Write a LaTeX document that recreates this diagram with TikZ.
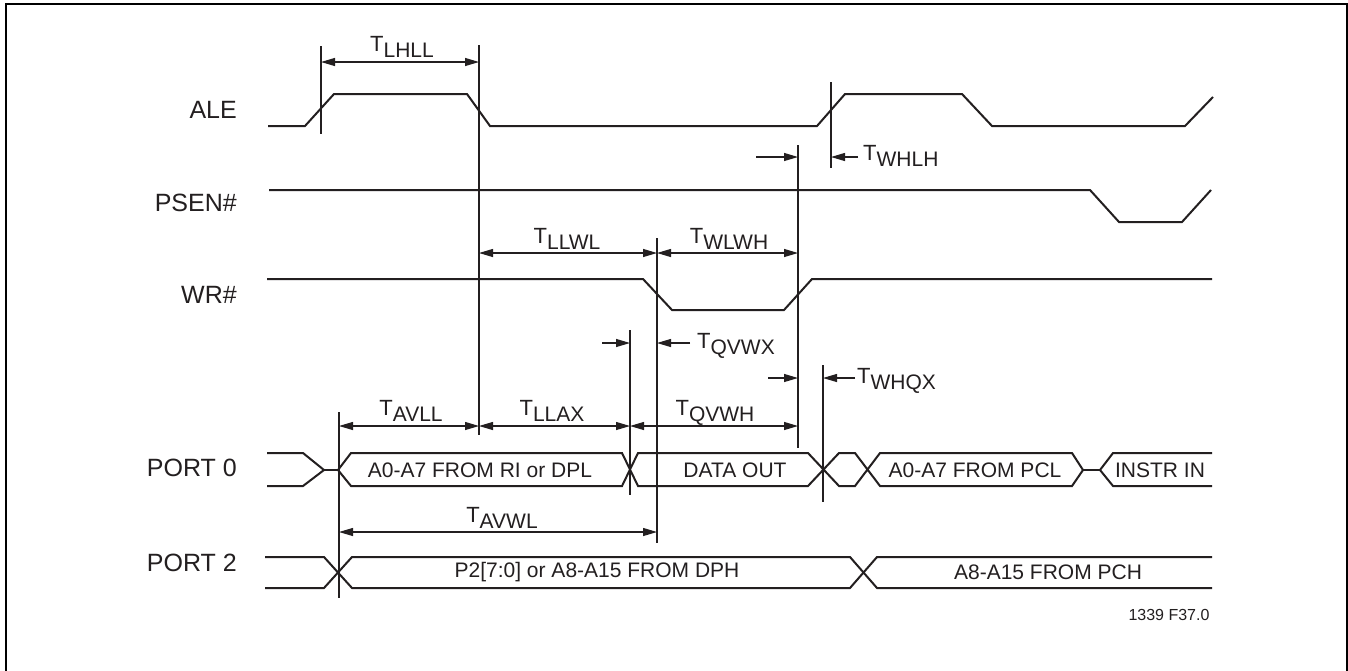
\documentclass[tikz,border=0pt]{standalone}
\usepackage{fontspec}
\setmainfont{Liberation Sans}
\usetikzlibrary{arrows.meta}
\definecolor{ink}{HTML}{231F20}
\newcommand\tsub[2]{{\fontsize{22}{22}\selectfont #1}\raisebox{-6pt}{\fontsize{21}{21}\selectfont #2}}
\begin{document}
\begin{tikzpicture}[x=1pt,y=-1pt,
  sig/.style={draw=ink,line width=2pt,line join=miter},
  vref/.style={draw=ink,line width=1.1pt},
  dimboth/.style={draw=ink,line width=1.1pt,{Triangle[length=14pt,width=8pt]}-{Triangle[length=14pt,width=8pt]}},
  dimone/.style={draw=ink,line width=1.1pt,-{Triangle[length=14pt,width=8pt]}},
  siglabel/.style={anchor=east,inner sep=0,text=ink,font=\fontsize{25}{25}\selectfont},
  bustext/.style={inner sep=0,text=ink,font=\fontsize{21}{21}\selectfont},
  tlab/.style={inner sep=0,text=ink,anchor=base},
  tlabw/.style={inner sep=0,text=ink,anchor=base west},
]
\useasboundingbox (0,0) rectangle (1348,670);
\fill[white] (0,0) rectangle (1348,670);
% frame
\draw[black,line width=2.2pt] (6,690) -- (6,4) -- (1347,4) -- (1347,690);

% signal labels
\node[siglabel] (lale) at (237,110) {ALE};
\node[siglabel] (lpsen) at (237,203) {PSEN\#};
\node[siglabel] (lwr) at (237,295) {WR\#};
\node[siglabel] (lp0) at (237,468) {PORT 0};
\node[siglabel] (lp2) at (237,563) {PORT 2};

% ALE
\draw[sig] (268,126) -- (305,126) -- (334,94) -- (467,94) -- (490,126) -- (817,126) -- (845,94) -- (962,94) -- (992,126) -- (1185,126) -- (1213,97);
% PSEN#
\draw[sig] (269,190) -- (1090,190) -- (1119,222) -- (1182,222) -- (1211,190);
% WR#
\draw[sig] (267,279) -- (643,279) -- (672,310) -- (784,310) -- (812,279) -- (1212,279);

% PORT 0
\draw[sig] (267,453) -- (303,453) -- (324,470) -- (303,486) -- (267,486);
\draw[sig] (324,470) -- (338,470);
\draw[sig] (338,470) -- (351,453) -- (622,453) -- (638,486) -- (808,486) -- (839,453) -- (855,453) -- (880,486) -- (1072,486) -- (1083,470) -- (1072,453) -- (880,453) -- (855,486) -- (839,486) -- (808,453) -- (638,453) -- (622,486) -- (351,486) -- cycle;
\draw[sig] (1083,470) -- (1100,470);
\draw[sig] (1212,453) -- (1113,453) -- (1100,470) -- (1113,486) -- (1212,486);
\node[bustext] (b1) at (480,470) {A0-A7 FROM RI or DPL};
\node[bustext] (b2) at (735,470) {DATA OUT};
\node[bustext] (b3) at (975,470) {A0-A7 FROM PCL};
\node[bustext] (b4) at (1160,470) {INSTR IN};

% PORT 2
\draw[sig] (265,557) -- (324,557) -- (352,588) -- (850,588) -- (877,557) -- (1212,557);
\draw[sig] (265,588) -- (324,588) -- (352,557) -- (850,557) -- (877,588) -- (1212,588);
\node[bustext] (b5) at (597,572) {P2[7:0] or A8-A15 FROM DPH};
\node[bustext] (b6) at (1048,572) {A8-A15 FROM PCH};

% reference verticals
\draw[vref] (321,46) -- (321,134);
\draw[vref] (479,45) -- (479,435);
\draw[vref] (798,145) -- (798,448);
\draw[vref] (831,82) -- (831,168);
\draw[vref] (657,238) -- (657,543);
\draw[vref] (630,330) -- (630,495);
\draw[vref] (823,365) -- (823,502);
\draw[vref] (339,412) -- (339,598);

% dimension points
\coordinate (lhA) at (321,62);  \coordinate (lhB) at (479,62);
\coordinate (llA) at (479,253); \coordinate (llB) at (657,253); \coordinate (wlB) at (798,253);
\coordinate (avA) at (339,426); \coordinate (avB) at (479,426); \coordinate (laB) at (630,426); \coordinate (qvB) at (798,426);
\coordinate (awA) at (339,532); \coordinate (awB) at (657,532);

\draw[dimboth] (lhA) -- (lhB);
\draw[dimboth] (llA) -- (llB);
\draw[dimboth] (llB) -- (wlB);
\draw[dimboth] (avA) -- (avB);
\draw[dimboth] (avB) -- (laB);
\draw[dimboth] (laB) -- (qvB);
\draw[dimboth] (awA) -- (awB);

\node[tlab] (tlhll) at (402,51) {\tsub{T}{LHLL}};
\node[tlab] (tllwl) at (567,243) {\tsub{T}{LLWL}};
\node[tlab] (twlwh) at (729,243) {\tsub{T}{WLWH}};
\node[tlab] (tavll) at (411,415) {\tsub{T}{AVLL}};
\node[tlab] (tllax) at (552,415) {\tsub{T}{LLAX}};
\node[tlab] (tqvwh) at (715,415) {\tsub{T}{QVWH}};
\node[tlab] (tavwl) at (502,522) {\tsub{T}{AVWL}};

% one-sided arrows
\coordinate (whA) at (756,157); \coordinate (whB) at (798,157);
\coordinate (whC) at (858,157); \coordinate (whD) at (831,157);
\draw[dimone] (whA) -- (whB);
\draw[dimone] (whC) -- (whD);
\node[tlabw] (twhlh) at (863,160) {\tsub{T}{WHLH}};

\coordinate (qxA) at (602,343); \coordinate (qxB) at (630,343);
\coordinate (qxC) at (690,343); \coordinate (qxD) at (657,343);
\draw[dimone] (qxA) -- (qxB);
\draw[dimone] (qxC) -- (qxD);
\node[tlabw] (tqvwx) at (697,348) {\tsub{T}{QVWX}};

\coordinate (hqA) at (768,378); \coordinate (hqB) at (798,378);
\coordinate (hqC) at (855,378); \coordinate (hqD) at (823,378);
\draw[dimone] (hqA) -- (hqB);
\draw[dimone] (hqC) -- (hqD);
\node[tlabw] (twhqx) at (857,383) {\tsub{T}{WHQX}};

\node[inner sep=0,text=ink,font=\fontsize{16}{16}\selectfont] (fig) at (1169,615) {1339 F37.0};
\end{tikzpicture}
\end{document}
